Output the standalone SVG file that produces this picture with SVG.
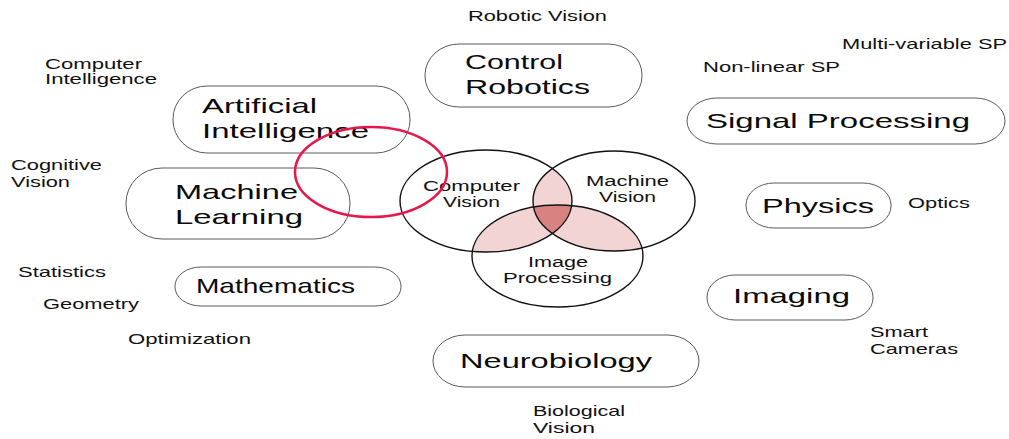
<svg xmlns="http://www.w3.org/2000/svg" width="1009" height="439" viewBox="0 0 1009 439">
<style>
.node{fill:none;stroke:#5a5a5a;stroke-width:1}
.big{font-family:"Liberation Sans",Arial,sans-serif;font-size:21px;fill:#0a0a0a}
.sm{font-family:"Liberation Sans",Arial,sans-serif;font-size:14.5px;fill:#111}
.vl{font-family:"Liberation Sans",Arial,sans-serif;font-size:15.5px;fill:#111}
.venn{fill:none;stroke:#111;stroke-width:1.4}
</style>
<defs>
<clipPath id="cCV"><ellipse cx="486" cy="201" rx="86" ry="51"/></clipPath>
<clipPath id="cMV"><ellipse cx="614" cy="201" rx="81" ry="50"/></clipPath>
</defs>
<rect width="1009" height="439" fill="#fff"/>

<g id="labels">
<text class="sm" x="468" y="21" textLength="139" lengthAdjust="spacingAndGlyphs">Robotic Vision</text>
<text class="sm" x="842" y="49" textLength="165" lengthAdjust="spacingAndGlyphs">Multi-variable SP</text>
<text class="sm" x="703" y="72" textLength="137" lengthAdjust="spacingAndGlyphs">Non-linear SP</text>
<text class="sm" x="45" y="69" textLength="97" lengthAdjust="spacingAndGlyphs">Computer</text>
<text class="sm" x="45" y="84" textLength="112" lengthAdjust="spacingAndGlyphs">Intelligence</text>
<text class="sm" x="11" y="170" textLength="91" lengthAdjust="spacingAndGlyphs">Cognitive</text>
<text class="sm" x="11" y="187" textLength="59" lengthAdjust="spacingAndGlyphs">Vision</text>
<text class="sm" x="18" y="277" textLength="88" lengthAdjust="spacingAndGlyphs">Statistics</text>
<text class="sm" x="43" y="309" textLength="96" lengthAdjust="spacingAndGlyphs">Geometry</text>
<text class="sm" x="128" y="344" textLength="123" lengthAdjust="spacingAndGlyphs">Optimization</text>
<text class="sm" x="908" y="208" textLength="62" lengthAdjust="spacingAndGlyphs">Optics</text>
<text class="sm" x="870" y="337" textLength="58" lengthAdjust="spacingAndGlyphs">Smart</text>
<text class="sm" x="870" y="354" textLength="88" lengthAdjust="spacingAndGlyphs">Cameras</text>
<text class="sm" x="533" y="416" textLength="92" lengthAdjust="spacingAndGlyphs">Biological</text>
<text class="sm" x="533" y="433" textLength="62" lengthAdjust="spacingAndGlyphs">Vision</text>
</g>

<g id="node-control-robotics">
<rect class="node" x="425" y="44" width="217" height="63" rx="34" ry="31"/>
<text class="big" x="465" y="69" textLength="98" lengthAdjust="spacingAndGlyphs">Control</text>
<text class="big" x="465" y="94" textLength="125" lengthAdjust="spacingAndGlyphs">Robotics</text>
</g>
<g id="node-artificial-intelligence">
<rect class="node" x="173" y="86" width="237" height="67" rx="34" ry="33"/>
<text class="big" x="202" y="113" textLength="115" lengthAdjust="spacingAndGlyphs">Artificial</text>
<text class="big" x="202" y="138" textLength="167" lengthAdjust="spacingAndGlyphs">Intelligence</text>
</g>
<g id="node-machine-learning">
<rect class="node" x="126" y="168" width="224" height="71" rx="36" ry="35"/>
<text class="big" x="175" y="199" textLength="123" lengthAdjust="spacingAndGlyphs">Machine</text>
<text class="big" x="175" y="224" textLength="128" lengthAdjust="spacingAndGlyphs">Learning</text>
</g>
<g id="node-mathematics">
<rect class="node" x="175" y="267" width="226" height="39" rx="26" ry="19"/>
<text class="big" x="196" y="293" textLength="159" lengthAdjust="spacingAndGlyphs">Mathematics</text>
</g>
<g id="node-signal-processing">
<rect class="node" x="687" y="98" width="318" height="46" rx="30" ry="23"/>
<text class="big" x="706" y="128" textLength="264" lengthAdjust="spacingAndGlyphs">Signal Processing</text>
</g>
<g id="node-physics">
<rect class="node" x="746" y="183" width="145" height="45" rx="28" ry="22"/>
<text class="big" x="762" y="213" textLength="112" lengthAdjust="spacingAndGlyphs">Physics</text>
</g>
<g id="node-imaging">
<rect class="node" x="707" y="275" width="166" height="45" rx="28" ry="22"/>
<text class="big" x="733" y="303" textLength="117" lengthAdjust="spacingAndGlyphs">Imaging</text>
</g>
<g id="node-neurobiology">
<rect class="node" x="433" y="335" width="266" height="52" rx="32" ry="26"/>
<text class="big" x="460" y="368" textLength="192" lengthAdjust="spacingAndGlyphs">Neurobiology</text>
</g>

<g id="node-venn">
<ellipse cx="614" cy="201" rx="81" ry="50" fill="#f2d4d4" clip-path="url(#cCV)"/>
<ellipse cx="557.5" cy="256" rx="85.5" ry="51" fill="#f2d4d4" clip-path="url(#cCV)"/>
<ellipse cx="557.5" cy="256" rx="85.5" ry="51" fill="#f2d4d4" clip-path="url(#cMV)"/>
<g clip-path="url(#cMV)"><ellipse cx="557.5" cy="256" rx="85.5" ry="51" fill="#d98282" clip-path="url(#cCV)"/></g>
<ellipse class="venn" cx="486" cy="201" rx="86" ry="51"/>
<ellipse class="venn" cx="614" cy="201" rx="81" ry="50"/>
<ellipse class="venn" cx="557.5" cy="256" rx="85.5" ry="51"/>
<text class="vl" x="423" y="191" textLength="97" lengthAdjust="spacingAndGlyphs">Computer</text>
<text class="vl" x="443" y="207" textLength="57" lengthAdjust="spacingAndGlyphs">Vision</text>
<text class="vl" x="586" y="186" textLength="83" lengthAdjust="spacingAndGlyphs">Machine</text>
<text class="vl" x="599" y="202" textLength="57" lengthAdjust="spacingAndGlyphs">Vision</text>
<text class="vl" x="528" y="267" textLength="60" lengthAdjust="spacingAndGlyphs">Image</text>
<text class="vl" x="503" y="283" textLength="109" lengthAdjust="spacingAndGlyphs">Processing</text>
</g>

<g id="node-highlight">
<ellipse cx="371" cy="172" rx="76" ry="45" fill="none" stroke="#e8174b" stroke-width="2.5"/>
</g>
</svg>
